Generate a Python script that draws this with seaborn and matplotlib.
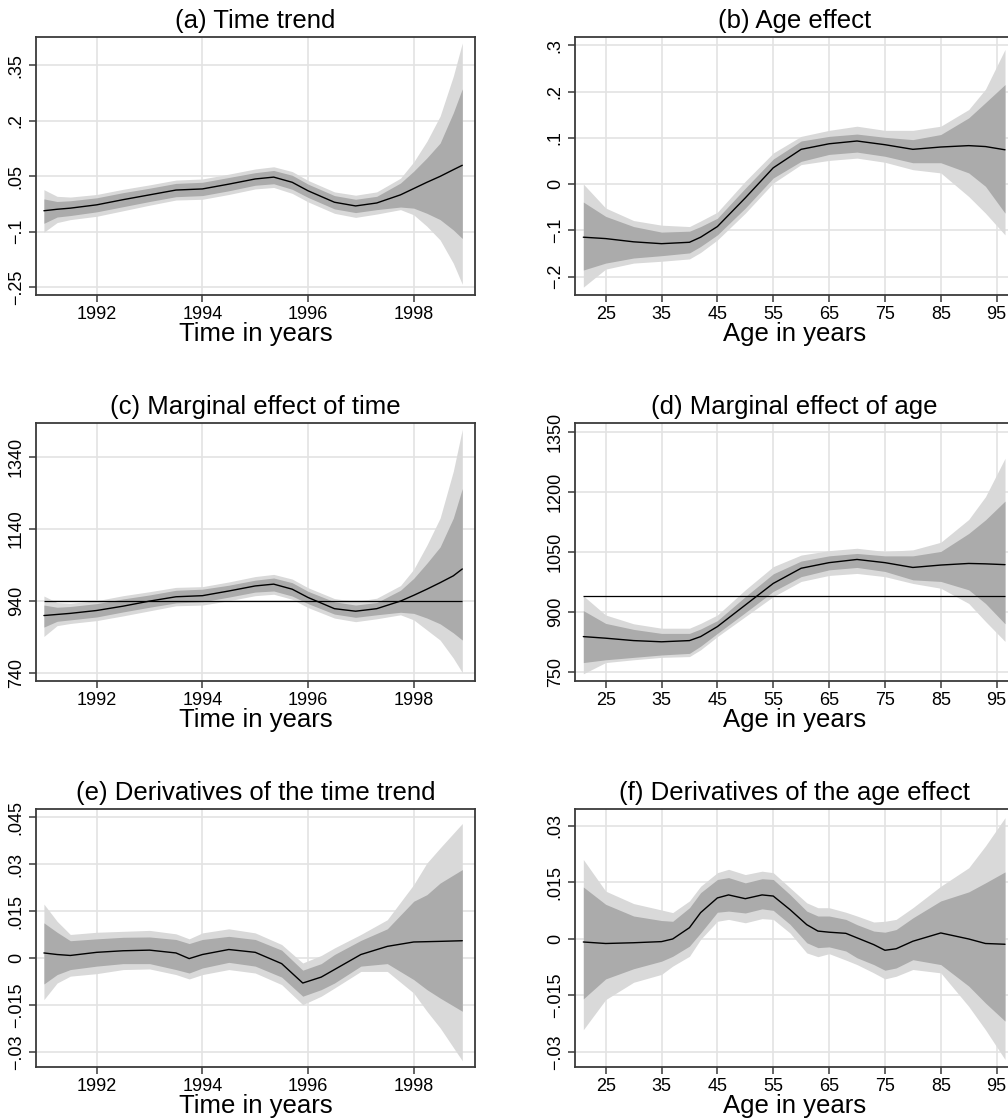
import numpy as np
import pandas as pd
import seaborn as sns
import matplotlib.pyplot as plt

# ---- data ----
years = [1991.0, 1991.25, 1991.5, 1992.0, 1992.5, 1993.0, 1993.5, 1994.0, 1994.5, 1995.0, 1995.35,
         1995.7, 1996.0, 1996.5, 1996.9, 1997.3, 1997.75, 1998.0, 1998.25, 1998.5, 1998.75, 1998.92]
trend = [-.043, -.039, -.036, -.027, -.013, .000, .013, .016, .029, .043, .048,
         .034, .011, -.020, -.030, -.022, .000, .017, .034, .050, .068, .080]
trend_in_hi = [-.011, -.018, -.016, -.008, .006, .018, .031, .034, .047, .060, .066,
               .053, .029, -.002, -.012, -.004, .032, .064, .100, .140, .222, .287]
trend_in_lo = [-.077, -.060, -.056, -.046, -.032, -.018, -.005, -.002, .011, .026, .030,
               .015, -.007, -.038, -.048, -.040, -.033, -.036, -.050, -.067, -.095, -.118]
trend_out_hi = [.014, -.004, -.006, .001, .015, .027, .040, .043, .056, .070, .076,
                .063, .039, .008, -.001, .008, .045, .089, .145, .213, .321, .411]
trend_out_lo = [-.101, -.075, -.067, -.058, -.043, -.028, -.014, -.012, .001, .016, .020,
                .004, -.019, -.050, -.061, -.052, -.040, -.054, -.085, -.122, -.185, -.242]

marg_time = [900, 903, 906, 914, 926, 940, 952, 955, 968, 982, 987,
             973, 950, 919, 912, 919, 940, 956, 973, 991, 1010, 1029]
marg_time_in_hi = [929, 923, 925, 933, 946, 957, 970, 973, 984, 998, 1004,
                   991, 967, 938, 929, 936, 970, 1003, 1045, 1090, 1170, 1252]
marg_time_in_lo = [868, 884, 888, 896, 910, 923, 935, 938, 951, 965, 968,
                   954, 933, 904, 895, 902, 909, 906, 893, 877, 852, 832]
marg_time_out_hi = [954, 936, 934, 941, 955, 966, 978, 980, 993, 1008, 1014,
                    1001, 977, 947, 939, 948, 983, 1028, 1095, 1170, 1300, 1416]
marg_time_out_lo = [842, 872, 878, 886, 899, 913, 927, 929, 941, 955, 959,
                    945, 922, 893, 883, 891, 902, 888, 860, 832, 782, 742]

years_d = [1991.0, 1991.25, 1991.5, 1992.0, 1992.5, 1993.0, 1993.5, 1993.75, 1994.0, 1994.5, 1995.0,
           1995.5, 1995.9, 1996.25, 1996.5, 1997.0, 1997.5, 1998.0, 1998.25, 1998.5, 1998.92]
d_trend = [.0017, .0012, .0009, .0019, .0024, .0026, .0017, -.0001, .0012, .0028, .0019,
           -.0017, -.0079, -.0060, -.0036, .0012, .0038, .0052, .0053, .0054, .0056]
d_trend_in_hi = [.0113, .0083, .0056, .0062, .0067, .0068, .0060, .0047, .0060, .0070, .0060,
                 .0026, -.0038, -.0017, .0012, .0057, .0094, .0182, .0203, .0240, .0283]
d_trend_in_lo = [-.0082, -.0052, -.0036, -.0025, -.0017, -.0017, -.0036, -.0047, -.0031, -.0013, -.0025,
                 -.0060, -.0121, -.0100, -.0079, -.0025, -.0017, -.0068, -.0100, -.0127, -.0169]
d_trend_out_hi = [.0173, .0118, .0076, .0083, .0086, .0089, .0078, .0062, .0081, .0094, .0081,
                  .0044, -.0015, .0009, .0033, .0076, .0123, .0235, .0304, .0352, .0430]
d_trend_out_lo = [-.0132, -.0079, -.0057, -.0049, -.0036, -.0034, -.0052, -.0066, -.0052, -.0036, -.0047,
                  -.0084, -.0148, -.0121, -.0095, -.0042, -.0042, -.0111, -.0169, -.0222, -.0327]

ages = [21, 25, 30, 35, 40, 42, 45, 50, 55, 60, 65, 70, 75, 80, 85, 90, 93, 96.5]
age_eff = [-.115, -.118, -.125, -.129, -.126, -.115, -.092, -.030, .035, .075, .087, .093, .085, .075, .080, .083, .081, .074]
age_in_hi = [-.039, -.070, -.092, -.104, -.102, -.092, -.074, -.009, .054, .093, .103, .108, .101, .096, .107, .143, .176, .215]
age_in_lo = [-.186, -.171, -.160, -.155, -.149, -.135, -.110, -.052, .013, .049, .064, .069, .060, .046, .046, .024, -.005, -.063]
age_out_hi = [.000, -.052, -.079, -.089, -.092, -.080, -.061, .006, .067, .103, .116, .125, .116, .116, .125, .161, .205, .291]
age_out_lo = [-.223, -.184, -.171, -.167, -.162, -.148, -.121, -.063, .002, .042, .051, .056, .047, .031, .024, -.027, -.063, -.110]

marg_age = [839, 835, 829, 826, 829, 839, 864, 918, 972, 1010, 1024, 1032, 1024, 1012, 1018, 1022, 1021, 1019]
marg_age_in_hi = [904, 872, 857, 847, 847, 858, 879, 939, 996, 1028, 1041, 1047, 1041, 1041, 1052, 1097, 1131, 1178]
marg_age_in_lo = [774, 781, 787, 793, 797, 815, 847, 899, 952, 989, 1006, 1012, 1002, 981, 977, 956, 922, 871]
marg_age_out_hi = [941, 893, 871, 860, 860, 872, 893, 956, 1014, 1043, 1054, 1060, 1052, 1056, 1075, 1132, 1189, 1285]
marg_age_out_lo = [746, 774, 781, 787, 789, 806, 839, 889, 939, 977, 992, 997, 989, 972, 960, 922, 877, 827]

ages_d = [21, 25, 30, 35, 37, 40, 42, 45, 47, 50, 53, 55, 58, 61, 63, 65, 68, 70, 73, 75, 77, 80, 85, 90, 93, 96.5]
d_age = [-.0008, -.0012, -.0010, -.0007, .0000, .0030, .0070, .0109, .0117, .0107, .0117, .0114, .0078, .0038,
         .0021, .0018, .0015, .0003, -.0015, -.0030, -.0026, -.0006, .0016, .0000, -.0012, -.0014]
d_age_in_hi = [.0138, .0092, .0061, .0049, .0047, .0083, .0123, .0158, .0163, .0149, .0160, .0158, .0118, .0074,
               .0061, .0061, .0052, .0038, .0021, .0018, .0025, .0056, .0101, .0125, .0149, .0178]
d_age_in_lo = [-.0159, -.0106, -.0079, -.0059, -.0046, -.0019, .0016, .0071, .0074, .0069, .0080, .0076, .0039, -.0010,
               -.0023, -.0021, -.0032, -.0050, -.0068, -.0083, -.0077, -.0055, -.0068, -.0125, -.0170, -.0218]
d_age_out_hi = [.0211, .0127, .0094, .0077, .0070, .0101, .0140, .0176, .0185, .0171, .0180, .0176, .0136, .0096,
                .0083, .0083, .0071, .0061, .0045, .0047, .0052, .0083, .0140, .0189, .0247, .0322]
d_age_out_lo = [-.0241, -.0161, -.0115, -.0094, -.0072, -.0046, -.0001, .0047, .0052, .0043, .0054, .0052, .0016, -.0037,
                -.0047, -.0039, -.0056, -.0068, -.0090, -.0106, -.0099, -.0081, -.0090, -.0179, -.0241, -.0320]

baseline = 940

year_ticks = [1992, 1994, 1996, 1998]
age_ticks = [25, 35, 45, 55, 65, 75, 85, 95]

panels = [
    dict(title="(a) Time trend", x=years, y=trend, ilo=trend_in_lo, ihi=trend_in_hi,
         olo=trend_out_lo, ohi=trend_out_hi, xt=year_ticks, xl="Time in years",
         yt=[.35, .2, .05, -.1, -.25], ytl=[".35", ".2", ".05", "\u2212.1", "\u2212.25"],
         ylim=(-.271, .426), ref=None),
    dict(title="(b) Age effect", x=ages, y=age_eff, ilo=age_in_lo, ihi=age_in_hi,
         olo=age_out_lo, ohi=age_out_hi, xt=age_ticks, xl="Age in years",
         yt=[.3, .2, .1, 0, -.1, -.2], ytl=[".3", ".2", ".1", "0", "\u2212.1", "\u2212.2"],
         ylim=(-.240, .317), ref=None),
    dict(title="(c) Marginal effect of time", x=years, y=marg_time, ilo=marg_time_in_lo, ihi=marg_time_in_hi,
         olo=marg_time_out_lo, ohi=marg_time_out_hi, xt=year_ticks, xl="Time in years",
         yt=[1340, 1140, 940, 740], ytl=["1340", "1140", "940", "740"],
         ylim=(718.7, 1432.5), ref=baseline),
    dict(title="(d) Marginal effect of age", x=ages, y=marg_age, ilo=marg_age_in_lo, ihi=marg_age_in_hi,
         olo=marg_age_out_lo, ohi=marg_age_out_hi, xt=age_ticks, xl="Age in years",
         yt=[1350, 1200, 1050, 900, 750], ytl=["1350", "1200", "1050", "900", "750"],
         ylim=(728, 1372.5), ref=baseline),
    dict(title="(e) Derivatives of the time trend", x=years_d, y=d_trend, ilo=d_trend_in_lo, ihi=d_trend_in_hi,
         olo=d_trend_out_lo, ohi=d_trend_out_hi, xt=year_ticks, xl="Time in years",
         yt=[.045, .03, .015, 0, -.015, -.03],
         ytl=[".045", ".03", ".015", "0", "\u2212.015", "\u2212.03"],
         ylim=(-.0347, .0475), ref=None),
    dict(title="(f) Derivatives of the age effect", x=ages_d, y=d_age, ilo=d_age_in_lo, ihi=d_age_in_hi,
         olo=d_age_out_lo, ohi=d_age_out_hi, xt=age_ticks, xl="Age in years",
         yt=[.03, .015, 0, -.015, -.03], ytl=[".03", ".015", "0", "\u2212.015", "\u2212.03"],
         ylim=(-.034, .0344), ref=None),
]

sns.set_theme(style="whitegrid")
plt.rcParams['font.family'] = ['Liberation Sans', 'DejaVu Sans']
plt.rcParams['text.color'] = 'black'
plt.rcParams['axes.labelcolor'] = 'black'
plt.rcParams['axes.titlecolor'] = 'black'

fig = plt.figure(figsize=(10.08, 11.2), dpi=100)

# axes boxes in figure fractions (right column runs past the edge like the reference)
lefts = [0.0357, 0.5704]
bottoms = [0.7366, 0.3920, 0.0473]
w, h = 0.4355, 0.2300

for i, p in enumerate(panels):
    col, row = i % 2, i // 2
    ax = fig.add_axes([lefts[col], bottoms[row], w, h])
    ax.set_facecolor('white')

    ax.fill_between(p['x'], p['olo'], p['ohi'], color='#d9d9d9', lw=0, zorder=2)
    ax.fill_between(p['x'], p['ilo'], p['ihi'], color='#ababab', lw=0, zorder=3)
    if p['ref'] is not None:
        ax.hlines(p['ref'], p['x'][0], p['x'][-1], color='black', lw=0.9, zorder=4)
    sns.lineplot(x=p['x'], y=p['y'], ax=ax, color='black', lw=1.0, zorder=5)

    if col == 0:
        ax.set_xlim(1990.85, 1999.16)
    else:
        ax.set_xlim(19.5, 98.1)
    ax.set_ylim(*p['ylim'])
    ax.set_xticks(p['xt'])
    ax.set_yticks(p['yt'], p['ytl'])

    ax.grid(True, color='#e3e3e3', lw=1.2)
    for s in ax.spines.values():
        s.set_color('#3a3a3a')
        s.set_linewidth(1.3)
    ax.tick_params(axis='both', direction='out', length=5, width=1.1, color='#3a3a3a',
                   labelsize=13, labelcolor='black', pad=3, bottom=True, left=True)
    for lab in ax.get_yticklabels():
        lab.set_rotation(90)
        lab.set_va('center')
    ax.set_title(p['title'], fontsize=18.5, pad=7, color='black')
    ax.set_xlabel(p['xl'], fontsize=18.5, labelpad=-1, color='black')
    ax.set_ylabel('')

fig.savefig('out.png', dpi=100)
